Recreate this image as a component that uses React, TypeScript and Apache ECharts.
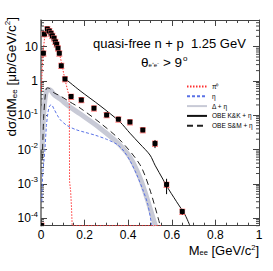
import React, { useEffect, useRef } from 'react';
import * as echarts from 'echarts';

// ---- data ----
const dataMass = [0.011, 0.016, 0.029, 0.038, 0.046, 0.052, 0.060, 0.066, 0.072, 0.078, 0.084, 0.093, 0.110, 0.138, 0.185, 0.243, 0.301, 0.355, 0.408, 0.467, 0.523, 0.576, 0.648, 0.003];
const dataXsec = [6.4, 23.5, 32.8, 28.7, 24.5, 21, 17.6, 14, 11.7, 9, 6.4, 2.8, 1.14, 0.35, 0.28, 0.16, 0.102, 0.076, 0.063, 0.037, 0.015, 0.00095, 0.000155, 0.0000605];
const dataStat = [0.3, 0.8, 1, 0.9, 0.8, 0.7, 0.6, 0.5, 0.4, 0.3, 0.25, 0.1, 0.05, 0.02, 0.015, 0.01, 0.007, 0.006, 0.006, 0.004, 0.004, 0.00045, 0.00003, 0];
const sysRel = 0.17;

const pi0Mass = [0.002, 0.006, 0.01, 0.015, 0.02, 0.025, 0.03, 0.035, 0.04, 0.05, 0.06, 0.07, 0.08, 0.09, 0.1, 0.11, 0.12, 0.127, 0.13, 0.1305, 0.131, 0.136, 0.14, 0.143, 0.55];
const pi0Val = [0.5, 3, 7, 15, 25, 33, 36, 33, 29, 23, 17, 12, 8, 4.5, 2.2, 1.1, 0.6, 0.4, 0.2, 0.01, 0.0012, 0.0006, 0.0002, 0.0000601, 0.0000601];

const etaMass = [0.004, 0.008, 0.014, 0.018, 0.025, 0.032, 0.04, 0.048, 0.06, 0.075, 0.09, 0.12, 0.16, 0.2, 0.25, 0.3, 0.35, 0.38, 0.41, 0.44, 0.47, 0.49, 0.508];
const etaVal = [0.0003, 0.002, 0.005, 0.01, 0.05, 0.12, 0.19, 0.2, 0.15, 0.1, 0.072, 0.05, 0.038, 0.032, 0.026, 0.02, 0.014, 0.009, 0.0045, 0.0018, 0.0006, 0.00025, 0.0000601];

const deltaMass = [0.005, 0.012, 0.02, 0.03, 0.04, 0.06, 0.087, 0.13, 0.179, 0.271, 0.35, 0.408, 0.454, 0.485, 0.514, 0.525];
const deltaVal = [0.01, 0.1, 0.35, 0.55, 0.55, 0.4, 0.3, 0.18, 0.11, 0.042, 0.016, 0.006, 0.0015, 0.0004, 0.0001, 0.0000601];

const kkMass = [0.105, 0.179, 0.271, 0.362, 0.408, 0.454, 0.5, 0.523, 0.561, 0.573, 0.622, 0.661, 0.683];
const kkVal = [1.25, 0.52, 0.19, 0.064, 0.03, 0.0145, 0.0069, 0.0035, 0.0013, 0.00093, 0.0003, 0.000123, 0.0000601];

const smMass = [0.006, 0.012, 0.02, 0.0275, 0.04, 0.06, 0.087, 0.13, 0.179, 0.271, 0.362, 0.454, 0.5, 0.546];
const smVal = [0.005, 0.08, 0.4, 0.63, 0.6, 0.45, 0.37, 0.25, 0.163, 0.06, 0.019, 0.0036, 0.00066, 0.000063];

const xTickLabels: Record<string, string> = { '0': '0', '0.2': '0.2', '0.4': '0.4', '0.6': '0.6', '0.8': '0.8', '1': '1' };
const yMin = 0.00006;
const yMax = 60;
const minorFactors = [2, 3, 4, 5, 6, 7, 8, 9];
const decades = [-5, -4, -3, -2, -1, 0, 1];

const zip = (a: number[], b: number[]) => a.map((v, i) => [v, b[i]]);

const FONT = 'Liberation Sans, Arial, sans-serif';

export default function App() {
  const ref = useRef<HTMLDivElement>(null);
  useEffect(() => {
    if (!ref.current) return;
    const chart = echarts.init(ref.current, undefined, { renderer: 'svg' });

    const minorVals: number[] = [];
    decades.forEach((d) => minorFactors.forEach((f) => {
      const v = f * Math.pow(10, d);
      if (v > yMin && v < yMax) minorVals.push(v);
    }));

    const yFmt = (v: number) => {
      const l = Math.log10(v);
      const e = Math.round(l);
      if (Math.abs(l - e) > 0.01) return '';
      if (e === 0) return '1';
      if (e === 1) return '10';
      return '10{s|' + e + '}';
    };

    const option: any = {
      animation: false,
      backgroundColor: '#fff',
      textStyle: { fontFamily: FONT },
      grid: { left: 41, right: 14, top: 20, bottom: 45.3, containLabel: false },
      xAxis: [
        {
          type: 'value', min: 0, max: 1, interval: 0.2, position: 'bottom',
          axisLine: { show: true, onZero: false, lineStyle: { color: '#444', width: 1 } },
          axisTick: { show: true, inside: true, length: 6, lineStyle: { color: '#444' } },
          minorTick: { show: true, splitNumber: 4, length: 3, lineStyle: { color: '#444' } },
          splitLine: { show: false },
          axisLabel: {
            color: '#000', fontSize: 12, fontFamily: FONT, margin: 3,
            formatter: (v: number) => xTickLabels[String(+v.toFixed(1))] ?? '',
          },
        },
        {
          type: 'value', min: 0, max: 1, interval: 0.2, position: 'top',
          axisLine: { show: true, onZero: false, lineStyle: { color: '#444', width: 1 } },
          axisTick: { show: true, inside: true, length: 6, lineStyle: { color: '#444' } },
          minorTick: { show: true, splitNumber: 4, length: 3, lineStyle: { color: '#444' } },
          splitLine: { show: false },
          axisLabel: { show: false },
        },
      ],
      yAxis: [
        {
          type: 'log', min: yMin, max: yMax, logBase: 10, position: 'left',
          axisLine: { show: true, onZero: false, lineStyle: { color: '#666', width: 1.5 } },
          axisTick: { show: true, inside: true, length: 6, lineStyle: { color: '#444' } },
          splitLine: { show: false },
          axisLabel: {
            color: '#000', fontSize: 12, fontFamily: FONT, margin: 3,
            formatter: yFmt,
            rich: { s: { fontSize: 8, fontFamily: FONT, padding: [0, 0, 8, 0] } },
          },
        },
        {
          type: 'log', min: yMin, max: yMax, logBase: 10, position: 'right',
          axisLine: { show: true, onZero: false, lineStyle: { color: '#444', width: 1 } },
          axisTick: { show: true, inside: true, length: 6, lineStyle: { color: '#444' } },
          splitLine: { show: false },
          axisLabel: { show: false },
        },
      ],
      legend: {
        orient: 'vertical', left: 181, top: 78, itemWidth: 20, itemHeight: 8, itemGap: 2.8,
        itemStyle: { opacity: 0 },
        textStyle: { fontSize: 6.5, color: '#000', fontFamily: FONT },
        data: ['π⁰', 'η', 'Δ + η', 'OBE K&K + η', 'OBE S&M + η'],
      },
      graphic: [
        {
          type: 'text', x: 93, y: 43,
          style: { text: 'quasi-free n + p  1.25 GeV', font: '13px ' + FONT, fill: '#000', verticalAlign: 'middle' },
        },
        {
          type: 'text', x: 141, y: 62,
          style: {
            text: '{a|θ}{b|e⁺e⁻}{a| > 9}{c|o}', verticalAlign: 'middle', fill: '#000',
            rich: {
              a: { fontSize: 13.5, fontFamily: FONT },
              b: { fontSize: 6, fontFamily: FONT, padding: [6, 0, 0, 0] },
              c: { fontSize: 8, fontFamily: FONT, padding: [0, 0, 8, 1] },
            },
          },
        },
        {
          type: 'text', x: 11, y: 17, rotation: Math.PI / 2,
          style: {
            text: '{a|dσ/dM}{b|ee}{a| [μb/GeV/c}{c|2}{a|]}', align: 'right', verticalAlign: 'middle', fill: '#000',
            rich: {
              a: { fontSize: 13.5, fontFamily: FONT },
              b: { fontSize: 8, fontFamily: FONT, padding: [7, 0, 0, 0] },
              c: { fontSize: 8, fontFamily: FONT, padding: [0, 0, 8, 0] },
            },
          },
        },
        {
          type: 'text', x: 259, y: 250,
          style: {
            text: '{a|M}{b|ee}{a| [GeV/c}{c|2}{a|]}', align: 'right', verticalAlign: 'middle', fill: '#000',
            rich: {
              a: { fontSize: 13, fontFamily: FONT },
              b: { fontSize: 7.5, fontFamily: FONT, padding: [5, 0, 0, 0] },
              c: { fontSize: 7.5, fontFamily: FONT, padding: [0, 0, 6, 0] },
            },
          },
        },
      ],
      series: [
        {
          name: 'minorTicks', type: 'custom', silent: true, clip: false,
          data: minorVals.map((v) => [0, v]),
          renderItem: (params: any, api: any) => {
            const v = api.value(1);
            const p0 = api.coord([0, v]);
            const p1 = api.coord([1, v]);
            const st = { stroke: '#444', lineWidth: 1 };
            return {
              type: 'group',
              children: [
                { type: 'line', shape: { x1: p0[0], y1: p0[1], x2: p0[0] + 3, y2: p0[1] }, style: st },
                { type: 'line', shape: { x1: p1[0], y1: p1[1], x2: p1[0] - 3, y2: p1[1] }, style: st },
              ],
            };
          },
          z: 1,
        },
        {
          name: 'Δ + η', type: 'line', data: zip(deltaMass, deltaVal), symbol: 'none', smooth: 0.3,
          lineStyle: { color: '#c8cad6', width: 5 }, itemStyle: { color: '#c8cad6' }, z: 2,
        },
        {
          name: 'η', type: 'line', data: zip(etaMass, etaVal), symbol: 'none', smooth: 0.3,
          lineStyle: { color: '#5a72e6', width: 1, type: [3, 2] }, itemStyle: { color: '#5a72e6' }, z: 3,
        },
        {
          name: 'π⁰', type: 'line', data: zip(pi0Mass, pi0Val), symbol: 'none',
          lineStyle: { color: '#ff3030', width: 1, type: [1.5, 1.5] }, itemStyle: { color: '#ff3030' }, z: 3,
        },
        {
          name: 'OBE S&M + η', type: 'line', data: zip(smMass, smVal), symbol: 'none', smooth: 0.3,
          lineStyle: { color: '#222', width: 1, type: [6, 4] }, itemStyle: { color: '#222' }, z: 4,
        },
        {
          name: 'OBE K&K + η', type: 'line', data: zip(kkMass, kkVal), symbol: 'none', smooth: 0.3,
          lineStyle: { color: '#111', width: 1 }, itemStyle: { color: '#111' }, z: 4,
        },
        {
          name: 'data', type: 'custom', clip: true, z: 10,
          data: dataMass.map((m, i) => [m, dataXsec[i], dataStat[i]]),
          renderItem: (params: any, api: any) => {
            const m = api.value(0);
            const v = api.value(1);
            const se = api.value(2);
            const c = api.coord([m, v]);
            const sysHi = api.coord([m, v * (1 + sysRel)]);
            const sysLo = api.coord([m, v * (1 - sysRel)]);
            const stHi = api.coord([m, v + se]);
            const stLo = api.coord([m, Math.max(v - se, 1e-8)]);
            const children: any[] = [
              { type: 'rect', shape: { x: c[0] - 3, y: sysHi[1], width: 6, height: sysLo[1] - sysHi[1] }, style: { fill: 'rgba(255,170,170,0.45)' } },
              { type: 'line', shape: { x1: c[0] - 3, y1: sysHi[1], x2: c[0] + 3, y2: sysHi[1] }, style: { stroke: '#ff6060', lineWidth: 1 } },
              { type: 'line', shape: { x1: c[0] - 3, y1: sysLo[1], x2: c[0] + 3, y2: sysLo[1] }, style: { stroke: '#ff6060', lineWidth: 1 } },
              { type: 'line', shape: { x1: c[0], y1: stHi[1], x2: c[0], y2: stLo[1] }, style: { stroke: '#000', lineWidth: 1 } },
              { type: 'rect', shape: { x: c[0] - 2.5, y: c[1] - 2.5, width: 5, height: 5, r: 1 }, style: { fill: '#000' } },
            ];
            return { type: 'group', children };
          },
        },
      ],
    };
    chart.setOption(option);
    return () => chart.dispose();
  }, []);
  return <div ref={ref} style={{ width: 273, height: 271, position: 'absolute', left: 0, top: 0 }} />;
}
